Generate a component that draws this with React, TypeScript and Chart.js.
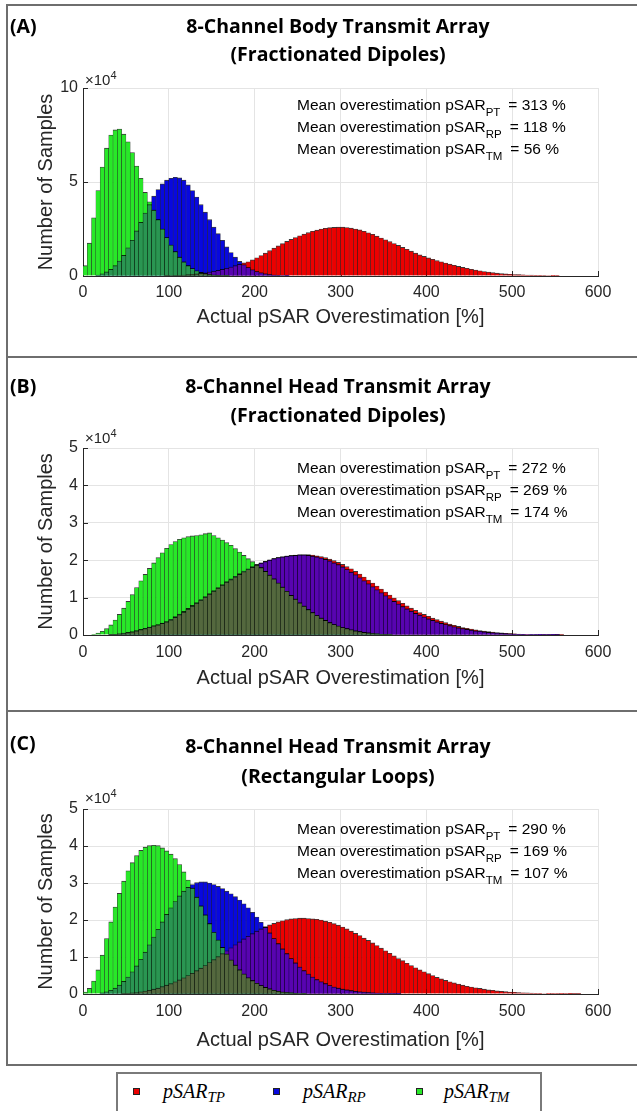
import React, { useEffect, useRef } from "react";
import { Chart, registerables } from "chart.js";

Chart.register(...registerables);

// ------------------------------------------------------------------ data
const BIN_WIDTH = 5;
const X_MIN = 0;
const X_MAX = 600;
const X_STEP = 100;
const X_LABEL = "Actual pSAR Overestimation [%]";
const Y_LABEL = "Number of Samples";
const Y_EXPONENT = "4";
const ANN_PREFIX = "Mean overestimation pSAR";
const ANN_SUBS = ["PT", "RP", "TM"];
const LEGEND_SUBS = ["TP", "RP", "TM"];

// Panel A (values in units of 10^4 samples per 5 % bin; START = first bin centre)
const A_LETTER = "(A)";
const A_TITLE = ["8-Channel Body Transmit Array", "(Fractionated Dipoles)"];
const A_Y_MAX = 10;
const A_Y_STEP = 5;
const A_MEANS = [313, 118, 56];
const A_TP_START = 97.5;
const A_TP = [0.01, 0.02, 0.03, 0.04, 0.05, 0.07, 0.09, 0.11, 0.14, 0.17, 0.21, 0.25, 0.3, 0.35, 0.41, 0.48, 0.55, 0.62, 0.7, 0.76, 0.86, 0.97, 1.09, 1.22, 1.35, 1.48, 1.6, 1.72, 1.84, 1.95, 2.05, 2.14, 2.23, 2.31, 2.38, 2.44, 2.5, 2.54, 2.57, 2.59, 2.6, 2.6, 2.58, 2.55, 2.5, 2.45, 2.38, 2.3, 2.22, 2.12, 2.02, 1.93, 1.83, 1.73, 1.63, 1.52, 1.42, 1.32, 1.22, 1.12, 1.04, 0.96, 0.89, 0.82, 0.76, 0.69, 0.63, 0.57, 0.51, 0.46, 0.41, 0.36, 0.32, 0.28, 0.24, 0.21, 0.18, 0.15, 0.13, 0.11, 0.095, 0.08, 0.07, 0.06, 0.05, 0.045, 0.04, 0.035, 0.03, 0.02, 0.015, 0.01];
const A_RP_START = 17.5;
const A_RP = [0.05, 0.12, 0.22, 0.35, 0.55, 0.8, 1.1, 1.5, 1.9, 2.4, 2.85, 3.35, 3.8, 4.25, 4.6, 4.9, 5.1, 5.2, 5.25, 5.22, 5.1, 4.85, 4.55, 4.2, 3.8, 3.4, 3.0, 2.6, 2.25, 1.9, 1.55, 1.25, 1.0, 0.78, 0.6, 0.45, 0.33, 0.24, 0.17, 0.12, 0.08, 0.05, 0.03, 0.02, 0.01];
const A_TM_START = 2.5;
const A_TM = [0.55, 1.75, 3.1, 4.55, 5.8, 6.8, 7.5, 7.77, 7.82, 7.55, 7.14, 6.57, 5.85, 5.2, 4.45, 3.95, 3.5, 3.0, 2.5, 2.05, 1.65, 1.3, 1.0, 0.75, 0.55, 0.4, 0.28, 0.19, 0.13, 0.08, 0.05, 0.03, 0.02, 0.01];

// Panel B
const B_LETTER = "(B)";
const B_TITLE = ["8-Channel Head Transmit Array", "(Fractionated Dipoles)"];
const B_Y_MAX = 5;
const B_Y_STEP = 1;
const B_MEANS = [272, 269, 174];
const B_TP_START = 32.5;
const B_TP = [0.01, 0.02, 0.03, 0.04, 0.06, 0.08, 0.11, 0.14, 0.17, 0.2, 0.24, 0.27, 0.31, 0.35, 0.4, 0.47, 0.54, 0.61, 0.69, 0.77, 0.85, 0.93, 1.01, 1.09, 1.17, 1.25, 1.33, 1.41, 1.48, 1.55, 1.62, 1.69, 1.75, 1.81, 1.87, 1.92, 1.96, 2.0, 2.04, 2.07, 2.09, 2.11, 2.13, 2.14, 2.15, 2.15, 2.15, 2.14, 2.12, 2.1, 2.07, 2.03, 1.99, 1.94, 1.89, 1.83, 1.77, 1.7, 1.63, 1.55, 1.47, 1.39, 1.31, 1.23, 1.15, 1.07, 0.99, 0.92, 0.85, 0.78, 0.72, 0.66, 0.6, 0.55, 0.5, 0.45, 0.41, 0.37, 0.33, 0.29, 0.26, 0.23, 0.2, 0.18, 0.16, 0.14, 0.12, 0.105, 0.09, 0.077, 0.065, 0.055, 0.046, 0.038, 0.032, 0.026, 0.021, 0.017, 0.014, 0.011, 0.009, 0.007, 0.005, 0.004, 0.003, 0.002];
const B_RP_START = 32.5;
const B_RP = [0.01, 0.02, 0.03, 0.05, 0.07, 0.09, 0.12, 0.15, 0.18, 0.21, 0.25, 0.28, 0.32, 0.36, 0.42, 0.49, 0.56, 0.63, 0.71, 0.79, 0.87, 0.95, 1.03, 1.11, 1.19, 1.27, 1.35, 1.43, 1.5, 1.57, 1.64, 1.71, 1.77, 1.83, 1.88, 1.93, 1.97, 2.01, 2.04, 2.07, 2.09, 2.11, 2.12, 2.13, 2.14, 2.14, 2.13, 2.11, 2.09, 2.06, 2.02, 1.98, 1.93, 1.88, 1.82, 1.75, 1.68, 1.61, 1.53, 1.45, 1.37, 1.29, 1.21, 1.13, 1.05, 0.97, 0.9, 0.83, 0.76, 0.7, 0.64, 0.58, 0.53, 0.48, 0.43, 0.39, 0.35, 0.31, 0.28, 0.25, 0.22, 0.19, 0.17, 0.15, 0.13, 0.11, 0.1, 0.085, 0.072, 0.06, 0.05, 0.042, 0.035, 0.029, 0.024, 0.02, 0.016, 0.013, 0.01, 0.008, 0.006, 0.005, 0.004, 0.003, 0.002];
const B_TM_START = 12.5;
const B_TM = [0.02, 0.05, 0.1, 0.17, 0.27, 0.4, 0.55, 0.72, 0.9, 1.08, 1.27, 1.45, 1.62, 1.78, 1.93, 2.07, 2.2, 2.32, 2.42, 2.5, 2.56, 2.6, 2.63, 2.65, 2.66, 2.68, 2.71, 2.73, 2.66, 2.6, 2.54, 2.47, 2.4, 2.31, 2.22, 2.13, 2.04, 1.96, 1.88, 1.8, 1.7, 1.6, 1.5, 1.39, 1.28, 1.17, 1.06, 0.96, 0.86, 0.77, 0.68, 0.6, 0.52, 0.45, 0.39, 0.33, 0.28, 0.24, 0.2, 0.17, 0.14, 0.11, 0.09, 0.07, 0.055, 0.04, 0.03, 0.02, 0.015, 0.01];

// Panel C
const C_LETTER = "(C)";
const C_TITLE = ["8-Channel Head Transmit Array", "(Rectangular Loops)"];
const C_Y_MAX = 5;
const C_Y_STEP = 1;
const C_MEANS = [290, 169, 107];
const C_TP_START = 47.5;
const C_TP = [0.01, 0.02, 0.03, 0.04, 0.06, 0.08, 0.1, 0.13, 0.16, 0.2, 0.24, 0.28, 0.33, 0.38, 0.44, 0.5, 0.56, 0.63, 0.7, 0.77, 0.85, 0.93, 1.01, 1.09, 1.17, 1.25, 1.33, 1.41, 1.49, 1.56, 1.63, 1.7, 1.76, 1.82, 1.87, 1.91, 1.95, 1.98, 2.01, 2.03, 2.04, 2.05, 2.05, 2.04, 2.03, 2.02, 2.0, 1.97, 1.94, 1.9, 1.86, 1.81, 1.76, 1.7, 1.64, 1.58, 1.51, 1.45, 1.38, 1.31, 1.24, 1.17, 1.1, 1.03, 0.96, 0.9, 0.83, 0.77, 0.71, 0.65, 0.6, 0.55, 0.5, 0.45, 0.41, 0.37, 0.33, 0.3, 0.27, 0.24, 0.21, 0.19, 0.17, 0.15, 0.13, 0.11, 0.1, 0.085, 0.075, 0.065, 0.055, 0.047, 0.04, 0.034, 0.029, 0.024, 0.02, 0.017, 0.014, 0.011, 0.009, 0.007, 0.005, 0.004, 0.003, 0.002, 0.001];
const C_RP_START = 22.5;
const C_RP = [0.03, 0.06, 0.1, 0.16, 0.24, 0.34, 0.46, 0.6, 0.76, 0.94, 1.13, 1.33, 1.54, 1.75, 1.95, 2.15, 2.33, 2.5, 2.65, 2.78, 2.88, 2.96, 3.01, 3.03, 3.03, 3.0, 2.96, 2.91, 2.85, 2.78, 2.71, 2.63, 2.54, 2.44, 2.33, 2.21, 2.08, 1.94, 1.8, 1.65, 1.5, 1.36, 1.22, 1.09, 0.96, 0.84, 0.73, 0.63, 0.54, 0.46, 0.39, 0.33, 0.28, 0.23, 0.19, 0.16, 0.13, 0.11, 0.09, 0.075, 0.06, 0.05, 0.04, 0.03, 0.025, 0.02, 0.015, 0.01, 0.008, 0.005];
const C_TM_START = 2.5;
const C_TM = [0.05, 0.15, 0.35, 0.65, 1.05, 1.5, 1.95, 2.35, 2.72, 3.05, 3.33, 3.55, 3.74, 3.88, 3.97, 4.01, 4.02, 4.01, 3.95, 3.87, 3.78, 3.66, 3.5, 3.3, 3.08, 2.86, 2.62, 2.38, 2.14, 1.9, 1.67, 1.46, 1.26, 1.08, 0.92, 0.78, 0.65, 0.54, 0.44, 0.36, 0.29, 0.23, 0.18, 0.14, 0.1, 0.075, 0.055, 0.04, 0.03, 0.02, 0.012, 0.008];

// ------------------------------------------------------------------ style
const CANVAS_W = 637;
const PLOT_LEFT = 83;
const PLOT_RIGHT = 598;
const TITLE_CX = 338;
const ANN_X = 297;
const Y_TITLE_CX = 46;
const AXIS_COLOR = "#262626";
const GRID_COLOR = "#e4e4e4";
const EDGE_COLOR = "rgba(0,0,0,0.78)";
const FONT_SANS = '"Liberation Sans", Arial, Helvetica, sans-serif';
const FONT_TITLE = '"Open Sans", Lato, sans-serif';
const COL_TP = "rgb(236,0,0)";
const COL_RP = "rgb(8,8,222)";
const COL_TM = "rgb(40,232,40)";
const COL_TP_RP = "rgb(88,4,176)";
const COL_TM_RP = "rgb(42,150,82)";
const COL_TM_TP = "rgb(84,104,62)";

const PANELS = [
  { letter: A_LETTER, title: A_TITLE, yMax: A_Y_MAX, yStep: A_Y_STEP, means: A_MEANS,
    tp: [A_TP_START, A_TP], rp: [A_RP_START, A_RP], tm: [A_TM_START, A_TM],
    top: 0, height: 357, plotTop: 88, plotBottom: 276, tickPad: 7, xTitleY: 317,
    letterY: 27, titleY: [27, 55], expY: 80, annY: [105, 127, 149] },
  { letter: B_LETTER, title: B_TITLE, yMax: B_Y_MAX, yStep: B_Y_STEP, means: B_MEANS,
    tp: [B_TP_START, B_TP], rp: [B_RP_START, B_RP], tm: [B_TM_START, B_TM],
    top: 357, height: 354, plotTop: 91, plotBottom: 278, tickPad: 8, xTitleY: 321,
    letterY: 30, titleY: [30, 59], expY: 81, annY: [111, 133, 155] },
  { letter: C_LETTER, title: C_TITLE, yMax: C_Y_MAX, yStep: C_Y_STEP, means: C_MEANS,
    tp: [C_TP_START, C_TP], rp: [C_RP_START, C_RP], tm: [C_TM_START, C_TM],
    top: 711, height: 354, plotTop: 98, plotBottom: 283, tickPad: 8, xTitleY: 329,
    letterY: 33, titleY: [36, 66], expY: 87, annY: [118, 140, 162] },
];

const NBINS = Math.round((X_MAX - X_MIN) / BIN_WIDTH);

function toBins(start: number, vals: number[]): number[] {
  const arr = new Array(NBINS).fill(0);
  const first = Math.round((start - BIN_WIDTH / 2 - X_MIN) / BIN_WIDTH);
  vals.forEach((v, i) => {
    const k = first + i;
    if (k >= 0 && k < NBINS) arr[k] = v;
  });
  return arr;
}

function toPoints(arr: number[]) {
  const pts: { x: number; y: number }[] = [];
  arr.forEach((v, k) => {
    if (v > 0) pts.push({ x: X_MIN + (k + 0.5) * BIN_WIDTH, y: v });
  });
  return pts;
}

function minOf(a: number[], b: number[]) {
  return a.map((v, i) => Math.min(v, b[i]));
}

function barDataset(label: string, arr: number[], color: string, order: number) {
  return {
    label,
    data: toPoints(arr),
    backgroundColor: color,
    borderColor: EDGE_COLOR,
    borderWidth: { top: 0.9, left: 0.5, right: 0.5, bottom: 0 },
    borderSkipped: false,
    barPercentage: 1,
    categoryPercentage: 1,
    grouped: false,
    order,
  };
}

function makeDecor(P: any) {
  return {
    id: "decor",
    beforeDatasetsDraw(chart: any) {
      const { ctx, chartArea, scales } = chart;
      ctx.save();
      ctx.strokeStyle = AXIS_COLOR;
      ctx.lineWidth = 1;
      scales.y.ticks.forEach((t: any) => {
        const py = Math.round(scales.y.getPixelForValue(t.value)) + 0.5;
        ctx.beginPath();
        ctx.moveTo(chartArea.left, py);
        ctx.lineTo(chartArea.left + 5, py);
        ctx.stroke();
      });
      scales.x.ticks.forEach((t: any) => {
        const px = Math.round(scales.x.getPixelForValue(t.value)) + 0.5;
        ctx.beginPath();
        ctx.moveTo(px, chartArea.bottom);
        ctx.lineTo(px, chartArea.bottom - 5);
        ctx.stroke();
      });
      ctx.restore();
    },
    afterDraw(chart: any) {
      const { ctx } = chart;
      ctx.save();
      // panel letter and title
      ctx.fillStyle = "#000";
      ctx.textBaseline = "middle";
      ctx.font = `bold 19.5px ${FONT_TITLE}`;
      ctx.textAlign = "left";
      ctx.fillText(P.letter, 10, P.letterY);
      ctx.textAlign = "center";
      P.title.forEach((t: string, i: number) => ctx.fillText(t, TITLE_CX, P.titleY[i]));
      // exponent
      ctx.textAlign = "left";
      ctx.textBaseline = "alphabetic";
      ctx.fillStyle = AXIS_COLOR;
      ctx.font = `15px ${FONT_SANS}`;
      const expBase = P.expY + 5;
      const expText = "\u00d710";
      ctx.fillText(expText, PLOT_LEFT + 2, expBase);
      const ew = ctx.measureText(expText).width;
      ctx.font = `11px ${FONT_SANS}`;
      ctx.fillText(Y_EXPONENT, PLOT_LEFT + 2 + ew, expBase - 6);
      // annotations
      ctx.fillStyle = "#000";
      ANN_SUBS.forEach((sub, i) => {
        const base = P.annY[i] + 5;
        let x = ANN_X;
        ctx.font = `15.5px ${FONT_SANS}`;
        ctx.fillText(ANN_PREFIX, x, base);
        x += ctx.measureText(ANN_PREFIX).width;
        ctx.font = `11.5px ${FONT_SANS}`;
        ctx.fillText(sub, x, base + 6);
        x += ctx.measureText(sub).width + 8;
        ctx.font = `15.5px ${FONT_SANS}`;
        ctx.fillText(`= ${P.means[i]} %`, x, base);
      });
      ctx.restore();
    },
  };
}

function Panel({ P }: { P: any }) {
  const ref = useRef<HTMLCanvasElement | null>(null);
  useEffect(() => {
    const tp = toBins(P.tp[0], P.tp[1]);
    const rp = toBins(P.rp[0], P.rp[1]);
    const tm = toBins(P.tm[0], P.tm[1]);
    const datasets = [
      barDataset("TM∩TP", minOf(tm, tp), COL_TM_TP, 1),
      barDataset("TM∩RP", minOf(tm, rp), COL_TM_RP, 2),
      barDataset("TM", tm, COL_TM, 3),
      barDataset("TP∩RP", minOf(tp, rp), COL_TP_RP, 4),
      barDataset("RP", rp, COL_RP, 5),
      barDataset("TP", tp, COL_TP, 6),
    ];
    const tickFont = { family: FONT_SANS, size: 16 };
    const titleFont = { family: FONT_SANS, size: 20 };
    const chart = new Chart(ref.current as HTMLCanvasElement, {
      type: "bar",
      data: { datasets } as any,
      options: {
        animation: false,
        responsive: false,
        maintainAspectRatio: false,
        events: [],
        layout: { padding: { top: P.plotTop, right: CANVAS_W - PLOT_RIGHT, left: 0, bottom: 0 } },
        plugins: { legend: { display: false }, tooltip: { enabled: false }, title: { display: false } },
        scales: {
          x: {
            type: "linear",
            min: X_MIN,
            max: X_MAX,
            offset: false,
            ticks: { stepSize: X_STEP, autoSkip: false, maxRotation: 0, padding: P.tickPad, color: AXIS_COLOR, font: tickFont },
            grid: { color: GRID_COLOR, drawTicks: false, offset: false },
            border: { color: AXIS_COLOR, width: 1 },
            title: { display: true, text: X_LABEL, color: AXIS_COLOR, font: titleFont, padding: { top: 0, bottom: P.height - P.xTitleY - 12 } },
            afterFit: (s: any) => { s.height = P.height - P.plotBottom; },
          },
          y: {
            type: "linear",
            min: 0,
            max: P.yMax,
            ticks: { stepSize: P.yStep, padding: 5, color: AXIS_COLOR, font: tickFont },
            grid: { color: GRID_COLOR, drawTicks: false },
            border: { color: AXIS_COLOR, width: 1 },
            title: { display: true, text: Y_LABEL, color: AXIS_COLOR, font: titleFont, padding: { top: Y_TITLE_CX - 12, bottom: 0 } },
            afterFit: (s: any) => { s.width = PLOT_LEFT; },
          },
        },
      } as any,
      plugins: [makeDecor(P)],
    });
    return () => chart.destroy();
  }, []);
  return (
    <canvas
      ref={ref}
      width={CANVAS_W}
      height={P.height}
      style={{ position: "absolute", left: 0, top: P.top, width: CANVAS_W, height: P.height }}
    />
  );
}

const LEGEND_ITEMS = [
  { sub: LEGEND_SUBS[0], color: COL_TP, sq: 133, tx: 163 },
  { sub: LEGEND_SUBS[1], color: COL_RP, sq: 273, tx: 303 },
  { sub: LEGEND_SUBS[2], color: COL_TM, sq: 416, tx: 444 },
];

export default function App() {
  return (
    <div style={{ position: "absolute", left: 0, top: 0, width: 637, height: 1111, overflow: "hidden", background: "#fff" }}>
      {PANELS.map((P, i) => <Panel key={i} P={P} />)}
      <div style={{ position: "absolute", left: 6, top: 4, width: 640, height: 1062, border: "2px solid #6e6e6e", boxSizing: "border-box" }} />
      <div style={{ position: "absolute", left: 6, top: 356, width: 640, height: 2, background: "#6e6e6e" }} />
      <div style={{ position: "absolute", left: 6, top: 710, width: 640, height: 2, background: "#6e6e6e" }} />
      <div style={{ position: "absolute", left: 116, top: 1072, width: 426, height: 60, border: "2px solid #7a7a7a", boxSizing: "border-box" }} />
      {LEGEND_ITEMS.map((it, i) => (
        <React.Fragment key={i}>
          <div style={{ position: "absolute", left: it.sq, top: 1088, width: 7, height: 7, background: it.color, border: "1px solid #222", boxSizing: "border-box" }} />
          <div style={{ position: "absolute", left: it.tx, top: 1078, height: 26, lineHeight: "26px", whiteSpace: "nowrap", fontFamily: '"Liberation Serif", "DejaVu Serif", serif', fontStyle: "italic", fontSize: 20, color: "#000" }}>
            pSAR<span style={{ fontSize: 15, position: "relative", top: 4 }}>{it.sub}</span>
          </div>
        </React.Fragment>
      ))}
    </div>
  );
}
